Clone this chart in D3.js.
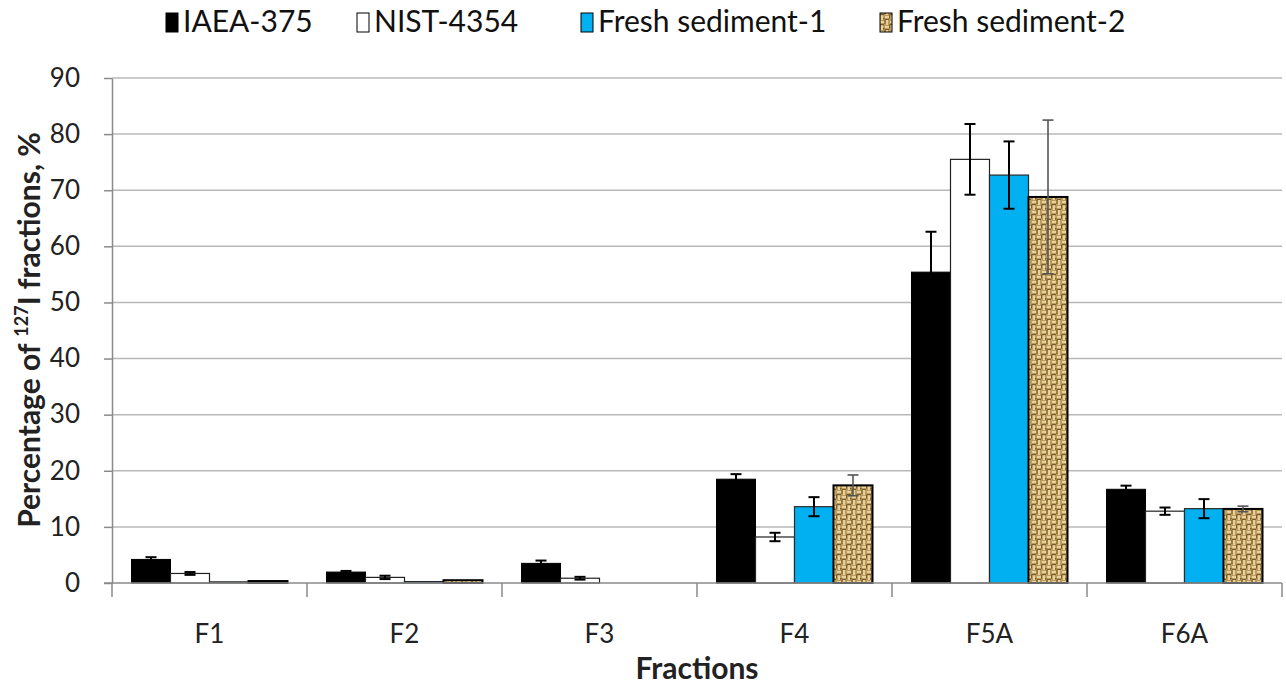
<!DOCTYPE html>
<html>
<head>
<meta charset="utf-8">
<script src="https://cdn.jsdelivr.net/npm/d3@7"></script>
<style>
  html, body { margin: 0; padding: 0; background: #fff; }
  svg { display: block; font-family: Lato, "Open Sans", sans-serif; }
</style>
</head>
<body>
<svg id="chart" width="1286" height="688"></svg>
<script>
// Fractions along the x axis
const categories = ["F1", "F2", "F3", "F4", "F5A", "F6A"];
// Samples shown as grouped bars
const seriesNames = ["IAEA-375", "NIST-4354", "Fresh sediment-1", "Fresh sediment-2"];
// Percentage of 127I in each fraction, one array per sample
const iaea375   = [4.2, 1.95, 3.5, 18.5, 55.4, 16.7];
const nist4354  = [1.7, 1.0, 0.85, 8.2, 75.5, 12.8];
const fresh1    = [0.2, 0.25, 0, 13.6, 72.7, 13.25];
const fresh2    = [0.35, 0.5, 0, 17.4, 68.8, 13.2];
// Standard deviations for the error bars
const iaea375Err  = [0.4, 0.2, 0.5, 0.9, 7.2, 0.65];
const nist4354Err = [0.25, 0.3, 0.25, 0.75, 6.3, 0.65];
const fresh1Err   = [0, 0, 0, 1.7, 6.0, 1.7];
const fresh2Err   = [0, 0, 0, 1.85, 13.7, 0.5];
const yTicks = [0, 10, 20, 30, 40, 50, 60, 70, 80, 90];

const values = [iaea375, nist4354, fresh1, fresh2];
const errors = [iaea375Err, nist4354Err, fresh1Err, fresh2Err];

const svg = d3.select("#chart");
const plot = { left: 112, right: 1282, top: 78, bottom: 583 };

const x = d3.scaleBand().domain(categories).range([plot.left, plot.right]).padding(0);
const xs = d3.scaleBand().domain(seriesNames).range([0, x.bandwidth()])
  .paddingInner(0).paddingOuter(0.5);
const y = d3.scaleLinear().domain([0, 90]).range([plot.bottom, plot.top]);

// Burlap-like weave texture for the second fresh sediment
const defs = svg.append("defs");
const pat = defs.append("pattern").attr("id", "burlap")
  .attr("patternUnits", "userSpaceOnUse").attr("width", 10).attr("height", 10);
pat.append("rect").attr("width", 10).attr("height", 10).attr("fill", "#bb9b5e");
const weaveLight = [[0,1,5,2],[6,0,2,5],[5,6,5,2],[1,5,2,5]];
const weaveDark = [[0,4,4,1.2],[4.3,0,1.2,4],[5,9,4,1],[9,4.5,1,4],[3,8,1.5,1.5]];
weaveLight.forEach(r => pat.append("rect").attr("x", r[0]).attr("y", r[1])
  .attr("width", r[2]).attr("height", r[3]).attr("fill", "#e8d29c"));
weaveDark.forEach(r => pat.append("rect").attr("x", r[0]).attr("y", r[1])
  .attr("width", r[2]).attr("height", r[3]).attr("fill", "#7a5c2e"));

const styles = [
  { fill: "#000000", stroke: "#000000", sw: 1, err: "#000", errW: 2 },
  { fill: "#ffffff", stroke: "#222222", sw: 1.2, err: "#000", errW: 2 },
  { fill: "#00b0f0", stroke: "#2a2a2a", sw: 1.2, err: "#000", errW: 2 },
  { fill: "url(#burlap)", stroke: "#000000", sw: 2, err: "#555", errW: 1.6 }
];

// Horizontal gridlines
svg.append("g").selectAll("line").data(yTicks.filter(t => t > 0)).join("line")
  .attr("x1", plot.left).attr("x2", plot.right)
  .attr("y1", d => y(d)).attr("y2", d => y(d))
  .attr("stroke", "#b8b8b8").attr("stroke-width", 1.5);

// Bars
const groups = svg.append("g").selectAll("g").data(categories).join("g")
  .attr("transform", d => `translate(${x(d)},0)`);

seriesNames.forEach((s, si) => {
  groups.append("rect")
    .filter((d, i) => values[si][i] > 0)
    .attr("x", xs(s))
    .attr("width", xs.bandwidth())
    .attr("y", d => y(values[si][categories.indexOf(d)]))
    .attr("height", d => plot.bottom - y(values[si][categories.indexOf(d)]))
    .attr("fill", styles[si].fill)
    .attr("stroke", styles[si].stroke)
    .attr("stroke-width", styles[si].sw);
});

// Error bars
seriesNames.forEach((s, si) => {
  categories.forEach((c, ci) => {
    const v = values[si][ci], e = errors[si][ci];
    if (!(v > 0) || !(e > 0)) return;
    const cx = x(c) + xs(s) + xs.bandwidth() / 2;
    const g = svg.append("g").attr("stroke", styles[si].err).attr("stroke-width", styles[si].errW);
    g.append("line").attr("x1", cx).attr("x2", cx).attr("y1", y(v + e)).attr("y2", y(v - e));
    [v + e, v - e].forEach(t => g.append("line")
      .attr("x1", cx - 5.5).attr("x2", cx + 5.5).attr("y1", y(t)).attr("y2", y(t)));
  });
});

// Y axis
const yAxis = svg.append("g").attr("transform", `translate(${plot.left},0)`)
  .call(d3.axisLeft(y).tickValues(yTicks).tickSize(8).tickPadding(24).tickSizeOuter(0));
yAxis.select(".domain").attr("stroke", "#8a8a8a").attr("stroke-width", 1.5);
yAxis.selectAll(".tick line").attr("stroke", "#8a8a8a").attr("stroke-width", 1.5);
yAxis.selectAll(".tick text").attr("font-size", 26).attr("fill", "#222")
  .attr("font-family", "Lato, sans-serif");

// X axis with tick marks at the category boundaries
const xAxis = svg.append("g").attr("transform", `translate(0,${plot.bottom})`);
xAxis.append("line").attr("x1", plot.left - 8).attr("x2", plot.right)
  .attr("stroke", "#8a8a8a").attr("stroke-width", 1.5);
const boundaries = categories.map(c => x(c)).concat([plot.right]);
xAxis.selectAll("line.b").data(boundaries).join("line").attr("class", "b")
  .attr("x1", d => d).attr("x2", d => d).attr("y1", 0).attr("y2", 14)
  .attr("stroke", "#8a8a8a").attr("stroke-width", 1.5);
xAxis.selectAll("text").data(categories).join("text")
  .attr("x", d => x(d) + x.bandwidth() / 2).attr("y", 60)
  .attr("text-anchor", "middle").attr("font-size", 26).attr("fill", "#222")
  .text(d => d);

// Axis titles
svg.append("text").attr("x", 697).attr("y", 679).attr("text-anchor", "middle")
  .attr("font-size", 30).attr("font-weight", "bold").attr("fill", "#222").text("Fractions");

const yTitle = svg.append("text")
  .attr("transform", `translate(40,330) rotate(-90)`)
  .attr("text-anchor", "middle").attr("font-size", 30).attr("font-weight", "bold").attr("fill", "#222");
yTitle.append("tspan").text("Percentage of ");
yTitle.append("tspan").attr("font-size", 18).attr("dy", -12).text("127");
yTitle.append("tspan").attr("dy", 12).text("I fractions, %");

// Legend
const legendX = [166, 357, 581, 880];
const legend = svg.append("g");
seriesNames.forEach((s, si) => {
  const g = legend.append("g").attr("transform", `translate(${legendX[si]},0)`);
  g.append("rect").attr("x", 0).attr("y", 13).attr("width", 12).attr("height", 19)
    .attr("fill", styles[si].fill).attr("stroke", "#000").attr("stroke-width", 1);
  g.append("text").attr("x", 17).attr("y", 32).attr("font-size", 30).attr("fill", "#111").text(s);
});
</script>
</body>
</html>
